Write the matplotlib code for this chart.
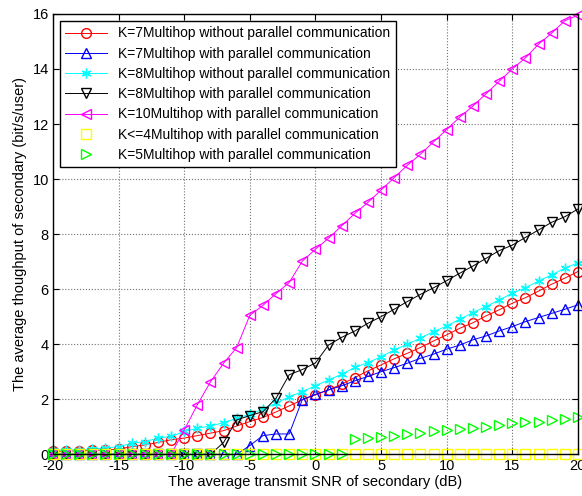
import numpy as np
import matplotlib
matplotlib.use("Agg")
import matplotlib.pyplot as plt

plt.rcParams['font.family'] = ['Liberation Sans', 'DejaVu Sans']
plt.rcParams['axes.unicode_minus'] = False

snr = list(range(-20, 21))

k7_without = [0.11, 0.12, 0.13, 0.14, 0.16, 0.19, 0.28, 0.34, 0.43, 0.53,
              0.59, 0.68, 0.77, 0.86, 1.03, 1.19, 1.34, 1.54, 1.76, 1.98,
              2.16, 2.34, 2.55, 2.79, 3.03, 3.25, 3.47, 3.67, 3.88, 4.12,
              4.34, 4.58, 4.78, 5.03, 5.25, 5.49, 5.69, 5.93, 6.18, 6.40, 6.64]
k7_with = [0.0] * 15 + [0.32, 0.68, 0.74, 0.74, 1.99,
           2.18, 2.34, 2.49, 2.67, 2.83, 3.00, 3.15, 3.31, 3.49, 3.64,
           3.82, 3.97, 4.16, 4.30, 4.48, 4.64, 4.82, 4.97, 5.12, 5.27, 5.43]
k8_without = [0.14, 0.15, 0.17, 0.19, 0.23, 0.28, 0.40, 0.46, 0.59, 0.65,
              0.83, 0.95, 1.03, 1.15, 1.31, 1.46, 1.64, 1.86, 2.09, 2.28,
              2.49, 2.70, 2.91, 3.16, 3.33, 3.55, 3.79, 4.00, 4.22, 4.46,
              4.66, 4.91, 5.15, 5.37, 5.61, 5.85, 6.05, 6.30, 6.52, 6.76, 6.96]
k8_with = [0.0] * 13 + [0.43, 1.25, 1.41, 1.55, 2.04, 2.89, 3.08,
           3.32, 3.97, 4.25, 4.48, 4.76, 5.00, 5.27, 5.55, 5.81, 6.05,
           6.31, 6.58, 6.84, 7.12, 7.40, 7.60, 7.88, 8.15, 8.43, 8.63, 8.91]
k10_with = [0.0] * 10 + [0.88, 1.80, 2.63, 3.31, 3.88, 5.05, 5.41, 5.84, 6.24, 7.02,
            7.45, 7.85, 8.30, 8.75, 9.15, 9.60, 10.05, 10.50, 10.90, 11.35,
            11.80, 12.25, 12.65, 13.10, 13.55, 14.00, 14.40, 14.90, 15.30, 15.75, 15.95]
k4_with = [0.0] * 41
k5_with = [0.0] * 23 + [0.55, 0.59, 0.62, 0.67, 0.74, 0.79, 0.83, 0.89, 0.91,
           0.95, 1.01, 1.07, 1.13, 1.17, 1.19, 1.23, 1.28, 1.37]

labels = ['K=7Multihop without parallel communication',
          'K=7Multihop with parallel communication',
          'K=8Multihop without parallel communication',
          'K=8Multihop with parallel communication',
          'K=10Multihop with parallel communication',
          'K<=4Multihop with parallel communication',
          'K=5Multihop with parallel communication']

fig = plt.figure(figsize=(5.82, 4.96), dpi=100)
ax = fig.add_axes([0.091, 0.084, 0.902, 0.888])

ms = 7
lw = 0.7
ast = (6, 2, 0)
ax.plot(snr, k7_without, '-o', color='#ff0000', mfc='none', ms=ms, lw=lw, label=labels[0], clip_on=False)
ax.plot(snr, k7_with, '-^', color='#0000ff', mfc='none', ms=ms, lw=lw, label=labels[1], clip_on=False)
ax.plot(snr, k8_without, '-', marker=ast, color='#00ffff', ms=ms, mew=1.0, lw=lw, label=labels[2], clip_on=False)
ax.plot(snr, k8_with, '-v', color='#000000', mfc='none', ms=ms, lw=lw, label=labels[3], clip_on=False)
ax.plot(snr, k10_with, '-<', color='#ff00ff', mfc='none', ms=ms, lw=lw, label=labels[4], clip_on=False)
ax.plot(snr, k4_with, 's', color='#ffff00', mfc='none', ms=ms, label=labels[5], clip_on=False)
ax.plot(snr, k5_with, '>', color='#00ff00', mfc='none', ms=ms, label=labels[6], clip_on=False)

ax.set_xlim(-20, 20)
ax.set_ylim(0, 16)
ax.set_xticks(range(-20, 21, 5))
ax.set_yticks(range(0, 17, 2))
ax.grid(True, linestyle=':', color='#707070', lw=0.8)
ax.tick_params(direction='in', labelsize=10.5, length=4, top=True, right=True, pad=3)
for s in ax.spines.values():
    s.set_linewidth(1.0)

ax.set_xlabel('The average transmit SNR of secondary (dB)', fontsize=10.5, labelpad=2)
ax.set_ylabel('The average thoughput of secondary (bit/s/user)', fontsize=10.5, labelpad=4)

leg = ax.legend(loc='upper left', fontsize=10, numpoints=1, handlelength=3,
                fancybox=False, framealpha=1, edgecolor='black',
                borderaxespad=0.5, labelspacing=0.45)
leg.get_frame().set_linewidth(1.0)

fig.savefig('out.png', dpi=100)
